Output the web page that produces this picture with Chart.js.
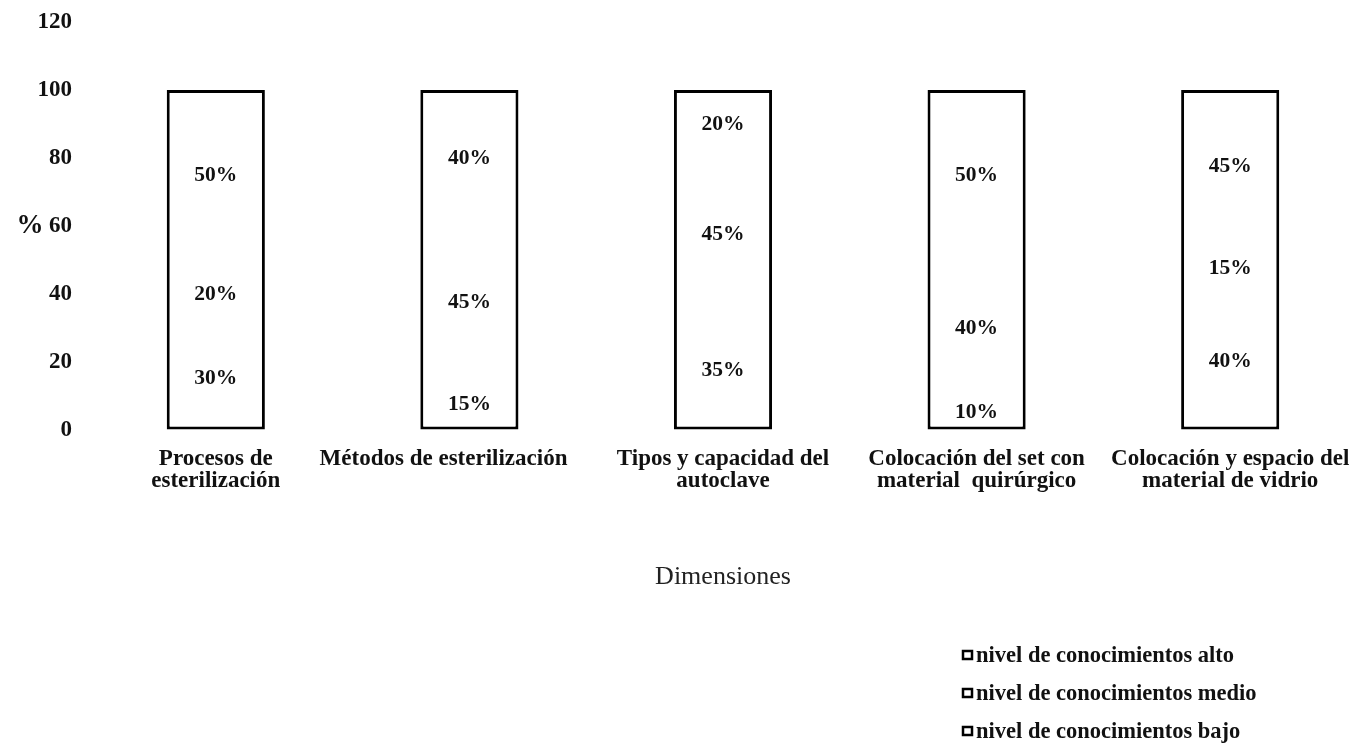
<!DOCTYPE html>
<html lang="es">
<head>
<meta charset="utf-8">
<title>Nivel de conocimientos por dimensiones</title>
<script src="https://cdn.jsdelivr.net/npm/chart.js@4.4.1/dist/chart.umd.min.js"></script>
<style>
  html, body { margin: 0; padding: 0; background: #ffffff; }
  #wrap { width: 1363px; height: 748px; position: relative; }
</style>
</head>
<body>
<div id="wrap"><canvas id="chart" width="1363" height="748"></canvas></div>
<script>
// Dimensiones evaluadas (etiquetas de categoría, en dos líneas cuando hace falta)
const dimensiones = [
  ['Procesos de', 'esterilización'],
  ['Métodos de esterilización\u00a0\u00a0\u00a0\u00a0\u00a0\u00a0\u00a0\u00a0\u00a0'],
  ['Tipos y capacidad del', 'autoclave'],
  ['Colocación del set con', 'material  quirúrgico'],
  ['Colocación y espacio del', 'material de vidrio']
];

// Porcentajes por nivel de conocimiento
const nivelBajo  = [30, 15, 35, 10, 40];
const nivelMedio = [20, 45, 45, 40, 15];
const nivelAlto  = [50, 40, 20, 50, 45];

const nombresSeries = [
  'nivel de conocimientos bajo',
  'nivel de conocimientos medio',
  'nivel de conocimientos alto'
];

const ticksY = [0, 20, 40, 60, 80, 100, 120];

const SERIF = "'Liberation Serif', 'Times New Roman', serif";
const BORDE = 3;

// Each segment only draws the outer sides so the stack reads as one framed column
const segmento = (label, data, borderWidth) => ({
  label,
  data,
  backgroundColor: '#ffffff',
  borderColor: '#000000',
  borderWidth,
  borderSkipped: false,
  inflateAmount: 0,
  categoryPercentage: 1.0,
  barPercentage: 0.387
});

// Invisible tick marks keep the labels away from the plot without extra edge padding
const ejeSinLineas = {
  display: true,
  color: 'rgba(0,0,0,0)',
  drawOnChartArea: false,
  drawTicks: true,
  tickLength: 17
};

// Percentage text centred in each stacked segment
const etiquetasValor = {
  id: 'etiquetasValor',
  afterDatasetsDraw(chart) {
    const { ctx } = chart;
    ctx.save();
    ctx.font = `bold 21.5px ${SERIF}`;
    ctx.fillStyle = '#111111';
    ctx.textAlign = 'center';
    ctx.textBaseline = 'middle';
    chart.data.datasets.forEach((ds, i) => {
      const meta = chart.getDatasetMeta(i);
      meta.data.forEach((bar, j) => {
        const v = ds.data[j];
        ctx.fillText(v + '%', bar.x, (bar.y + bar.base) / 2);
      });
    });
    ctx.restore();
  }
};

// "%" axis caption beside the value ticks, and a stacked legend in the lower right
const extras = {
  id: 'extras',
  afterDraw(chart) {
    const { ctx, chartArea } = chart;
    ctx.save();
    ctx.fillStyle = '#111111';
    ctx.font = `bold 27px ${SERIF}`;
    ctx.textAlign = 'center';
    ctx.textBaseline = 'middle';
    ctx.fillText('%', 30, (chartArea.top + chartArea.bottom) / 2);

    const items = chart.data.datasets.map(d => d.label).reverse();
    ctx.font = `bold 22.5px ${SERIF}`;
    ctx.textAlign = 'left';
    items.forEach((txt, k) => {
      const y = 655 + k * 38;
      ctx.fillStyle = '#ffffff';
      ctx.strokeStyle = '#000000';
      ctx.lineWidth = 2.5;
      ctx.fillRect(963, y - 4, 9, 8);
      ctx.strokeRect(963, y - 4, 9, 8);
      ctx.fillStyle = '#111111';
      ctx.fillText(txt, 976, y + 1);
    });
    ctx.restore();
  }
};

new Chart(document.getElementById('chart'), {
  type: 'bar',
  data: {
    labels: dimensiones,
    datasets: [
      segmento(nombresSeries[0], nivelBajo,  { top: 0, right: BORDE, bottom: BORDE, left: BORDE }),
      segmento(nombresSeries[1], nivelMedio, { top: 0, right: BORDE, bottom: 0, left: BORDE }),
      segmento(nombresSeries[2], nivelAlto,  { top: BORDE, right: BORDE, bottom: 0, left: BORDE })
    ]
  },
  options: {
    responsive: false,
    animation: false,
    layout: { padding: { top: 22, right: 6, bottom: 155, left: 0 } },
    plugins: {
      legend: { display: false },
      tooltip: { enabled: false }
    },
    scales: {
      x: {
        stacked: true,
        grid: ejeSinLineas,
        border: { display: false },
        ticks: {
          padding: 1,
          color: '#111111',
          maxRotation: 0,
          autoSkip: false,
          font: { family: SERIF, size: 23, weight: 'bold', lineHeight: 0.96 }
        },
        title: {
          display: true,
          text: 'Dimensiones',
          color: '#222222',
          padding: { top: 0, bottom: 2 },
          font: { family: SERIF, size: 26, weight: 'normal', lineHeight: 1.1 }
        },
        afterFit(scale) { scale.height = 163; }
      },
      y: {
        stacked: true,
        min: 0,
        max: 120,
        grid: ejeSinLineas,
        border: { display: false },
        afterBuildTicks(scale) { scale.ticks = ticksY.map(v => ({ value: v })); },
        ticks: {
          padding: 0,
          color: '#111111',
          font: { family: SERIF, size: 23, weight: 'bold' }
        },
        afterFit(scale) { scale.width = 89; }
      }
    }
  },
  plugins: [etiquetasValor, extras]
});
</script>
</body>
</html>
